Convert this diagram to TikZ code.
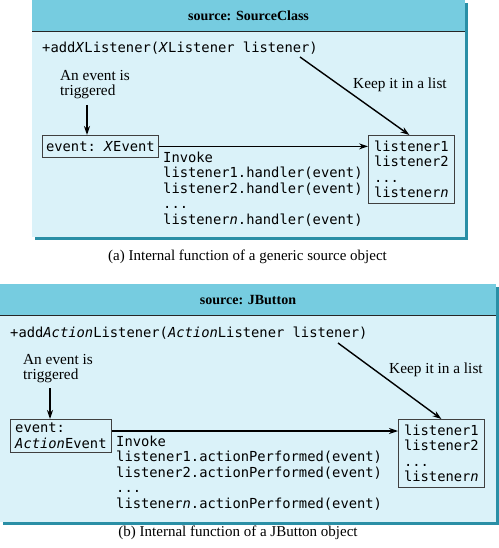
\documentclass[tikz,border=0pt]{standalone}
\usepackage{fontspec}
\setmainfont{Liberation Serif}
\setmonofont{DejaVu Sans Mono}
\usetikzlibrary{arrows.meta,calc}
\definecolor{hdr}{HTML}{76CCE0}
\definecolor{bdy}{HTML}{DAF2F9}
\definecolor{shd}{HTML}{2A8FA6}
\definecolor{edg}{HTML}{404040}
\tikzset{
  code/.style={font=\ttfamily\fontsize{13.8bp}{15.5bp}\selectfont, inner sep=0pt, align=left},
  lcode/.style={font=\ttfamily\fontsize{13.8bp}{15.3bp}\selectfont, inner sep=0pt, align=left},
  lbl/.style={font=\fontsize{15.3bp}{15bp}\selectfont, inner sep=0pt, align=left},
  ttl/.style={font=\bfseries\fontsize{14bp}{16bp}\selectfont, inner sep=0pt},
  figcap/.style={font=\fontsize{15bp}{16bp}\selectfont, inner sep=0pt},
  box/.style={draw=edg, line width=0.8bp, inner sep=0pt},
  arr/.style={-{Stealth[length=9bp,width=6bp]}, line width=1.4bp},
  harr/.style={-{Stealth[length=9bp,width=6bp]}, line width=1.1bp},
  sep/.style={line width=1bp, draw=black!85}
}
\begin{document}
\begin{tikzpicture}[x=1bp,y=-1bp]
\useasboundingbox (0,0) rectangle (499,548);
% ---------- panel (a)
\fill[shd] (35,3) rectangle (468,240);
\fill[bdy] (32,0) rectangle (465,237);
\fill[hdr] (32,0) rectangle (465,32);
\draw[sep] (32,32) -- (465,32);
\node[ttl] (tA) at (248.5,16) {source: SourceClass};
\node[code, anchor=west] (sigA) at (42,48) {+add\textit{X}Listener(\textit{X}Listener listener)};
\coordinate (kA) at (300,57);
\node[lbl, anchor=west] (trA) at (60,84.5) {An event is\\triggered};
\coordinate (dA) at (87,105);
\node[code, box, anchor=north west, minimum width=116bp, minimum height=22bp] (evA) at (42,135) {event: \textit{X}Event};
\node[lcode, box, anchor=north west, minimum width=86bp, minimum height=68bp] (lsA) at (368,135) {listener1\\listener2\\...\\listener\textit{n}};
\node[lbl, anchor=west] (kpA) at (353,85) {Keep it in a list};
\node[code, anchor=west] (invA) at (163,189) {Invoke\\listener1.handler(event)\\listener2.handler(event)\\...\\listener\textit{n}.handler(event)};
\draw[arr] (dA) -- (dA |- evA.north);
\draw[harr] (evA.east) -- (evA.east -| lsA.west);
\draw[arr] (kA) -- ($(lsA.north)+(-2,0)$);
\node[figcap] (cA) at (247.5,257) {(a) Internal function of a generic source object};
% ---------- panel (b)
\fill[shd] (3,287) rectangle (499,525);
\fill[bdy] (0,284) rectangle (496,522);
\fill[hdr] (0,284) rectangle (496,315);
\draw[sep] (0,315) -- (496,315);
\node[ttl] (tB) at (248,300) {source: JButton};
\node[code, anchor=west] (sigB) at (10,333) {+add\textit{Action}Listener(\textit{Action}Listener listener)};
\coordinate (kB) at (338,343);
\node[lbl, anchor=west] (trB) at (23,368.5) {An event is\\triggered};
\coordinate (dB) at (50,388);
\node[code, box, anchor=north west, minimum width=101bp, minimum height=33bp] (evB) at (10,419) {event:\\\textit{Action}Event};
\node[lcode, box, anchor=north west, minimum width=86bp, minimum height=68bp] (lsB) at (398,419) {listener1\\listener2\\...\\listener\textit{n}};
\node[lbl, anchor=west] (kpB) at (389,370) {Keep it in a list};
\node[code, anchor=west] (invB) at (116,473) {Invoke\\listener1.actionPerformed(event)\\listener2.actionPerformed(event)\\...\\listener\textit{n}.actionPerformed(event)};
\coordinate (hB) at ($(evB.north east)+(0,12)$);
\draw[arr] (dB) -- (dB |- evB.north);
\draw[harr] (hB) -- (hB -| lsB.west);
\draw[arr] (kB) -- (lsB.north);
\node[figcap] (cB) at (238,532.5) {(b) Internal function of a JButton object};
\end{tikzpicture}
\end{document}
